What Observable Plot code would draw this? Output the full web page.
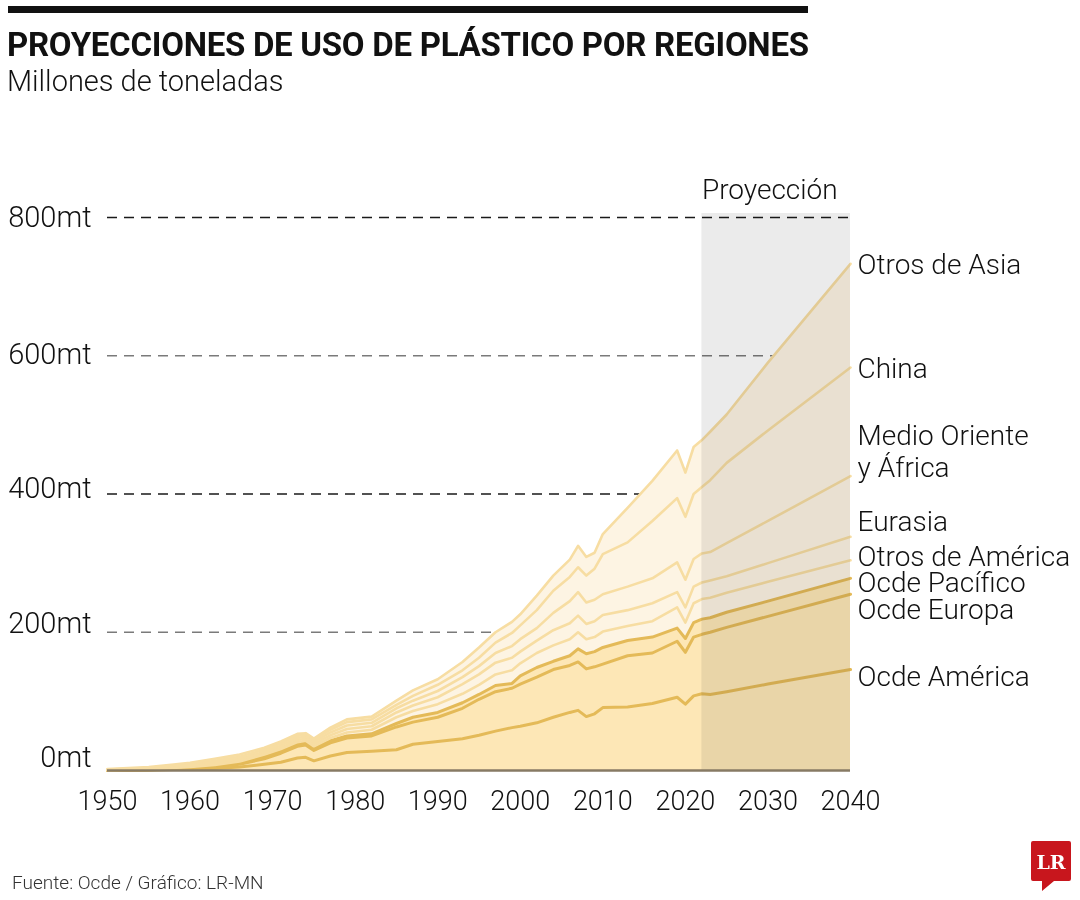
<!DOCTYPE html>
<html><head><meta charset="utf-8">
<script src="https://cdn.jsdelivr.net/npm/d3@7"></script>
<script src="https://cdn.jsdelivr.net/npm/@observablehq/plot@0.6"></script>
<style>
body{margin:0;background:#fff;width:1080px;height:900px;position:relative;overflow:hidden;font-family:Roboto,"Open Sans",sans-serif;color:#111;}
#bar{position:absolute;left:8px;top:6px;width:800px;height:7px;background:#111;}
#title{position:absolute;left:7px;top:25px;font-size:33px;font-weight:700;white-space:nowrap;line-height:1.2;}
#sub{position:absolute;left:7px;top:64px;font-size:29px;font-weight:300;white-space:nowrap;line-height:1.2;}
#chart{position:absolute;left:0;top:110px;}
#foot{position:absolute;left:12px;top:871px;font-size:19px;font-weight:300;color:#333;white-space:nowrap;}
#logo{position:absolute;left:1030px;top:840px;}
</style></head>
<body>
<div id="bar"></div>
<div id="title">PROYECCIONES DE USO DE PLÁSTICO POR REGIONES</div>
<div id="sub">Millones de toneladas</div>
<div id="chart"></div>
<div id="foot">Fuente: Ocde / Gráfico: LR-MN</div>
<svg id="logo" width="44" height="54" viewBox="0 0 44 54">
<path d="M3 1 H39 Q41 1 41 3 V39 Q41 41 39 41 H24 L12 51 V41 H3 Q1 41 1 39 V3 Q1 1 3 1 Z" fill="#c8161d"/>
<text x="21" y="29" text-anchor="middle" font-family="'DejaVu Serif','Liberation Serif',serif" font-weight="bold" font-size="19" fill="#fff">LR</text>
</svg>
<script>
// ---- data (millones de toneladas por región) ----
const years = [1950,1955,1960,1963,1966,1969,1971,1973,1974,1975,1977,1979,1982,1985,1987,1990,1993,1995,1997,1999,2000,2002,2004,2006,2007,2008,2009,2010,2013,2016,2019,2020,2021,2022,2023,2025,2030,2040];
const ocdeAmerica   = [0,0.5,2,3,5,9,12,18,19,14, 21,26,28,30,38, 42,46,51,57,62, 64,69,77,84,87, 78,82,91,92,97, 106,96,108,111,110, 114,125,146];
const ocdeEuropa    = [0,0.5,1,2,4,8,13,17,18,15, 19,21,22,33,32, 35,44,52,57,57, 61,66,69,68,70, 69,68,63,74,73, 81,75,85,86,90, 93,98,109];
const ocdePacifico  = [0,0.5,0.5,1,2,3,3,3,3,3, 3,3,3,5,7, 7,8,7,9,7, 12,14,12,14,19, 22,22,24,22,23, 19,20,21,22,21, 22,22,23];
const otrosAmerica  = [0.5,0.5,1.5,2,2,3,3,3,3,3, 4,5,6,9,9, 12,13,14,16,19, 18,21,23,24,24, 21,21,23,21,23, 30,23,28,29,29, 28,28,26];
const eurasia       = [0.5,0.5,1,2,2,2,2,3,3,3, 4,5,5,7,8, 10,14,15,17,18, 17,18,22,23,24, 22,23,24,23,26, 22,22,24,24,25, 24,27,34];
const medioOriente  = [0,0.5,1,2,2,2,3,3,3,3, 4,5,5,6,7, 9,10,12,14,17, 18,18,25,32,34, 31,31,30,34,36, 43,40,40,42,41, 48,61,88];
const china         = [0.5,1,2,2,3,3,3,3,3,3, 4,5,5,5,7, 9,10,12,15,19, 20,26,32,35,36, 39,45,58,64,83, 93,91,94,96,104, 116,131,157];
const otrosAsia     = [0.5,1,2,3,3,3,3,3,2,2, 3,4,4,6,8, 8,12,15,15,16, 16,21,22,25,31, 27,23,29,50,58, 69,64,68,68,70, 70,98,150];

const regions = ["Ocde América","Ocde Europa","Ocde Pacífico","Otros de América","Eurasia","Medio Oriente y África","China","Otros de Asia"];
const regionLabels = ["Ocde América","Ocde Europa","Ocde Pacífico","Otros de América","Eurasia","Medio Oriente\ny África","China","Otros de Asia"];
const yTicks = [0,200,400,600,800];
const xTicks = [1950,1960,1970,1980,1990,2000,2010,2020,2030,2040];
const projectionStart = 2022, projectionEnd = 2040;
const projectionLabel = "Proyección";

// ---- styles ----
const series = [ocdeAmerica, ocdeEuropa, ocdePacifico, otrosAmerica, eurasia, medioOriente, china, otrosAsia];
const isOcde = i => i < 3;
const fillOf = i => isOcde(i) ? "#fde7b6" : "#fdf4e3";
const strokeOf = i => isOcde(i) ? "#e4ba58" : "#f7dda2";
const labelNudge = [6, 15, 4, -4, -16, -25, 0, 0];
const yLabelNudge = [-13, -9, -5, -1, 0];

const data = regions.flatMap((r, i) => years.map((yr, j) => ({year: yr, region: r, idx: i, value: series[i][j]})));
const ends = d3.cumsum(series.map(s => s[s.length - 1]));

const chart = Plot.plot({
  width: 1080, height: 730,
  marginLeft: 107, marginRight: 230, marginTop: 107, marginBottom: 70,
  x: {domain: [1950, 2040], axis: null},
  y: {domain: [0, 800], axis: null},
  color: {type: "identity"},
  style: {fontFamily: "Roboto, 'Open Sans', sans-serif", color: "#111", background: "transparent"},
  marks: [
    Plot.ruleY(yTicks.filter(d => d > 0), {x1: 1950, x2: 2040, stroke: d => d % 400 === 0 ? "#1a1a1a" : "#7a7a7a", strokeWidth: 1.6, strokeDasharray: "10,7"}),
    Plot.areaY(data, {x: "year", y: "value", z: "region", fill: d => fillOf(d.idx), curve: "linear"}),
    Plot.lineY(data, Plot.stackY2({x: "year", y: "value", z: "region", stroke: d => strokeOf(d.idx), strokeWidth: d => isOcde(d.idx) ? 3 : 2.6, strokeLinejoin: "round"})),
    Plot.rect([{x1: projectionStart, x2: projectionEnd}], {x1: "x1", x2: "x2", y1: 0, y2: 800, insetTop: -4, fill: "#ebebeb", mixBlendMode: "multiply"}),
    Plot.ruleY([0], {x1: 1950, x2: 2040, stroke: "#877a64", strokeWidth: 2.5}),
    Plot.text([projectionLabel], {x: projectionStart, y: 800, dy: -27, text: d => d, textAnchor: "start", fontSize: 28, fontWeight: 300, fill: "#111"}),
    ...yTicks.map((v, i) => Plot.text([v], {x: 1950, y: d => d, dy: yLabelNudge[i], text: d => d + "mt", textAnchor: "end", dx: -16, fontSize: 29, fontWeight: 300, fill: "#111"})),
    Plot.text(xTicks, {x: d => d, y: 0, dy: 31, text: d => String(d), fontSize: 27, fontWeight: 300, fill: "#111"}),
    ...regionLabels.map((lab, i) => Plot.text([lab], {x: 2040, y: ends[i], dx: 7, dy: labelNudge[i], text: d => d, textAnchor: "start", fontSize: 28, fontWeight: 300, lineHeight: 1.12, fill: "#111"}))
  ]
});
document.getElementById("chart").appendChild(chart);

// fit title width to the black rule
const t = document.getElementById("title");
const w = t.getBoundingClientRect().width;
const n = t.textContent.length;
t.style.letterSpacing = ((802 - w) / (n - 1)) + "px";
</script>
</body></html>
